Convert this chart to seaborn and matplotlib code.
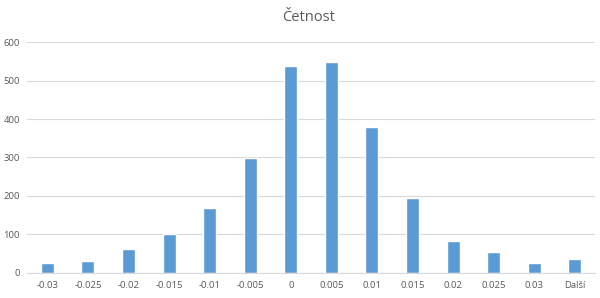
import matplotlib
matplotlib.use("Agg")
import matplotlib.pyplot as plt
import seaborn as sns
import pandas as pd

categories = ["-0.03", "-0.025", "-0.02", "-0.015", "-0.01", "-0.005", "0",
              "0.005", "0.01", "0.015", "0.02", "0.025", "0.03", "Další"]
counts = [27, 31, 62, 100, 168, 298, 537, 549, 378, 195, 83, 55, 25, 37]
yticks = [0, 100, 200, 300, 400, 500, 600]

df = pd.DataFrame({"bin": categories, "count": counts})

sns.set_theme(style="white")
plt.rcParams["font.family"] = ["Open Sans", "DejaVu Sans"]

fig = plt.figure(figsize=(6.0, 2.98), dpi=100)
ax = fig.add_axes([0.045, 0.084, 0.947, 0.775])
sns.barplot(data=df, x="bin", y="count", color="#5B9BD5", width=0.32,
            saturation=1, ax=ax, order=categories)
ax.set_ylim(0, 600)
ax.set_xlim(-0.5, len(categories) - 0.5)
ax.set_yticks(yticks)
ax.set_yticklabels([str(v) for v in yticks], fontsize=6.8, color="#595959")
ax.tick_params(axis="x", labelsize=6.8, labelcolor="#595959", length=0, pad=6)
ax.tick_params(axis="y", length=0, pad=5)
ax.yaxis.grid(True, color="#D9D9D9", linewidth=0.8)
ax.set_axisbelow(True)
for s in ["top", "right", "left"]:
    ax.spines[s].set_visible(False)
ax.spines["bottom"].set_color("#D9D9D9")
ax.spines["bottom"].set_linewidth(0.8)
ax.set_xlabel("")
ax.set_ylabel("")
fig.text(0.515, 0.94, "Četnost", ha="center", va="center", fontsize=10.5, color="#595959")
fig.savefig("out.png", dpi=100)
